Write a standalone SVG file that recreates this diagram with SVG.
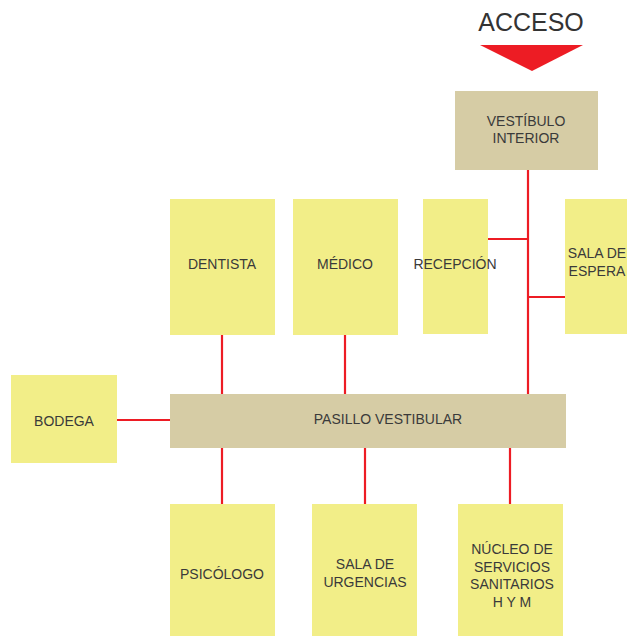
<svg xmlns="http://www.w3.org/2000/svg" width="627" height="636" viewBox="0 0 627 636">
<style>
.room{fill:#F2EE88}
.hall{fill:#D6CCA5}
.lbl{font-family:"Liberation Sans",Arial,sans-serif;font-size:14px;fill:#3a3a3a;text-anchor:middle}
.con{stroke:#ED1C24;stroke-width:2.2;fill:none}
</style>
<rect width="627" height="636" fill="#ffffff"/>
<g id="acceso">
<text x="531" y="31" font-family="'Liberation Sans',Arial,sans-serif" font-size="25" fill="#333333" text-anchor="middle">ACCESO</text>
<polygon points="480,45 583,45 532,71" fill="#ED1C24"/>
</g>
<g id="connectors">
<line class="con" x1="528" y1="170" x2="528" y2="394"/>
<line class="con" x1="488" y1="239" x2="528" y2="239"/>
<line class="con" x1="528" y1="297" x2="565" y2="297"/>
<line class="con" x1="222" y1="335" x2="222" y2="400"/>
<line class="con" x1="345" y1="335" x2="345" y2="394"/>
<line class="con" x1="117" y1="420" x2="170" y2="420"/>
<line class="con" x1="222" y1="447" x2="222" y2="504"/>
<line class="con" x1="365" y1="447" x2="365" y2="504"/>
<line class="con" x1="510" y1="447" x2="510" y2="504"/>
</g>
<g id="vestibulo">
<rect class="hall" x="455" y="91" width="143" height="79"/>
<text class="lbl" x="526" y="126">VESTÍBULO</text>
<text class="lbl" x="526" y="143">INTERIOR</text>
</g>
<g id="dentista">
<rect class="room" x="170" y="199" width="105" height="136"/>
<text class="lbl" x="222" y="269">DENTISTA</text>
</g>
<g id="medico">
<rect class="room" x="293" y="199" width="105" height="136"/>
<text class="lbl" x="345" y="269">MÉDICO</text>
</g>
<g id="recepcion">
<rect class="room" x="423" y="199" width="65" height="135"/>
<text class="lbl" x="455" y="269">RECEPCIÓN</text>
</g>
<g id="sala-espera">
<rect class="room" x="565" y="199" width="62" height="135"/>
<text class="lbl" x="597" y="258">SALA DE</text>
<text class="lbl" x="597" y="276">ESPERA</text>
</g>
<g id="bodega">
<rect class="room" x="11" y="375" width="106" height="88"/>
<text class="lbl" x="64" y="426">BODEGA</text>
</g>
<g id="pasillo">
<rect class="hall" x="170" y="394" width="396" height="54"/>
<text class="lbl" x="388" y="424">PASILLO VESTIBULAR</text>
</g>
<g id="psicologo">
<rect class="room" x="170" y="504" width="105" height="132"/>
<text class="lbl" x="222" y="579">PSICÓLOGO</text>
</g>
<g id="sala-urgencias">
<rect class="room" x="312" y="504" width="105" height="132"/>
<text class="lbl" x="365" y="569">SALA DE</text>
<text class="lbl" x="365" y="587">URGENCIAS</text>
</g>
<g id="nucleo">
<rect class="room" x="458" y="504" width="105" height="132"/>
<text class="lbl" x="512" y="554">NÚCLEO DE</text>
<text class="lbl" x="512" y="572">SERVICIOS</text>
<text class="lbl" x="512" y="589">SANITARIOS</text>
<text class="lbl" x="512" y="607">H Y M</text>
</g>
</svg>
